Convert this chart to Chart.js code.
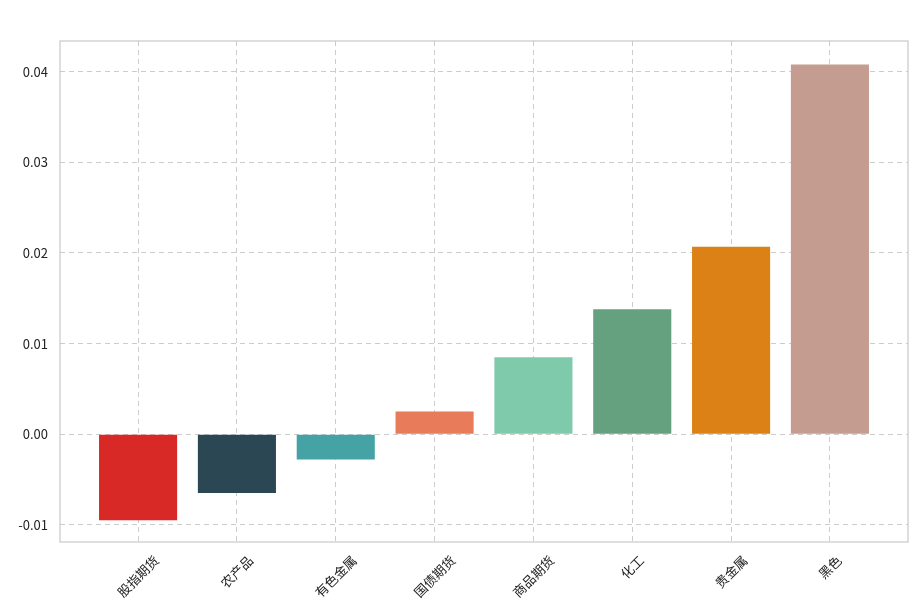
<!DOCTYPE html>
<html lang="zh">
<head>
  <meta charset="UTF-8" />
  <title>板块收益</title>
  <script src="https://cdn.jsdelivr.net/npm/chart.js"></script>
  <style>
    html, body { margin: 0; padding: 0; background: #fff; }
    #wrap { width: 919px; height: 604px; }
  </style>
</head>
<body>
<div id="wrap"><canvas id="chartCanvas" width="919" height="604"></canvas></div>

<script>
// 数据
const categories = ['股指期货', '农产品', '有色金属', '国债期货', '商品期货', '化工', '贵金属', '黑色'];
const values = [-0.0095, -0.0065, -0.0028, 0.0025, 0.0085, 0.0138, 0.0207, 0.0408];
const yTicks = [-0.01, 0, 0.01, 0.02, 0.03, 0.04];
const barColors = ['#d92926', '#2b4753', '#45a2a5', '#e77b5a', '#7ecaab', '#65a07f', '#db8116', '#c59d90'];

const fontFamily = '"Noto Sans CJK SC", "Noto Sans", sans-serif';

// 画外框和旋转的x轴标签（以刻度为中心旋转）
const frameAndLabels = {
  id: 'frameAndLabels',
  afterDraw(chart) {
    const { ctx, chartArea, scales } = chart;
    ctx.save();
    ctx.strokeStyle = '#c8c8c8';
    ctx.lineWidth = 1.2;
    ctx.strokeRect(chartArea.left, chartArea.top, chartArea.right - chartArea.left, chartArea.bottom - chartArea.top);

    ctx.font = '13px ' + fontFamily;
    ctx.fillStyle = '#222';
    ctx.textAlign = 'center';
    ctx.textBaseline = 'middle';
    const ang = Math.PI / 4;
    categories.forEach((c, i) => {
      const w = ctx.measureText(c).width;
      const h = 14;
      const half = (w * Math.cos(ang) + h * Math.sin(ang)) / 2;
      const x = scales.x.getPixelForValue(i);
      const y = chartArea.bottom + 11 + half;
      ctx.save();
      ctx.translate(x, y);
      ctx.rotate(-ang);
      ctx.fillText(c, 0, 0);
      ctx.restore();
    });
    ctx.restore();
  }
};

new Chart(document.getElementById('chartCanvas'), {
  type: 'bar',
  data: {
    datasets: [{
      data: values.map((v, i) => ({ x: i, y: v })),
      backgroundColor: barColors,
      borderWidth: 0,
      categoryPercentage: 0.79,
      barPercentage: 1
    }]
  },
  options: {
    responsive: false,
    animation: false,
    layout: { padding: { top: 41, right: 11, left: 0, bottom: 0 } },
    plugins: { legend: { display: false }, tooltip: { enabled: false } },
    scales: {
      x: {
        type: 'linear',
        min: -0.79,
        max: 7.79,
        offset: false,
        afterBuildTicks: s => { s.ticks = categories.map((_, i) => ({ value: i })); },
        afterFit: s => { s.height = 62; },
        ticks: { display: false },
        border: { display: false, dash: [5, 4] },
        grid: { offset: false, color: '#cccccc', lineWidth: 1, drawTicks: false }
      },
      y: {
        min: -0.0119,
        max: 0.0434,
        afterBuildTicks: s => { s.ticks = yTicks.map(v => ({ value: v })); },
        afterFit: s => { s.width = 60; },
        ticks: {
          color: '#222',
          padding: 12,
          font: { family: fontFamily, size: 13 },
          callback: v => v.toFixed(2)
        },
        border: { display: false, dash: [5, 4] },
        grid: { color: '#cccccc', lineWidth: 1, drawTicks: false }
      }
    }
  },
  plugins: [frameAndLabels]
});
</script>
</body>
</html>
